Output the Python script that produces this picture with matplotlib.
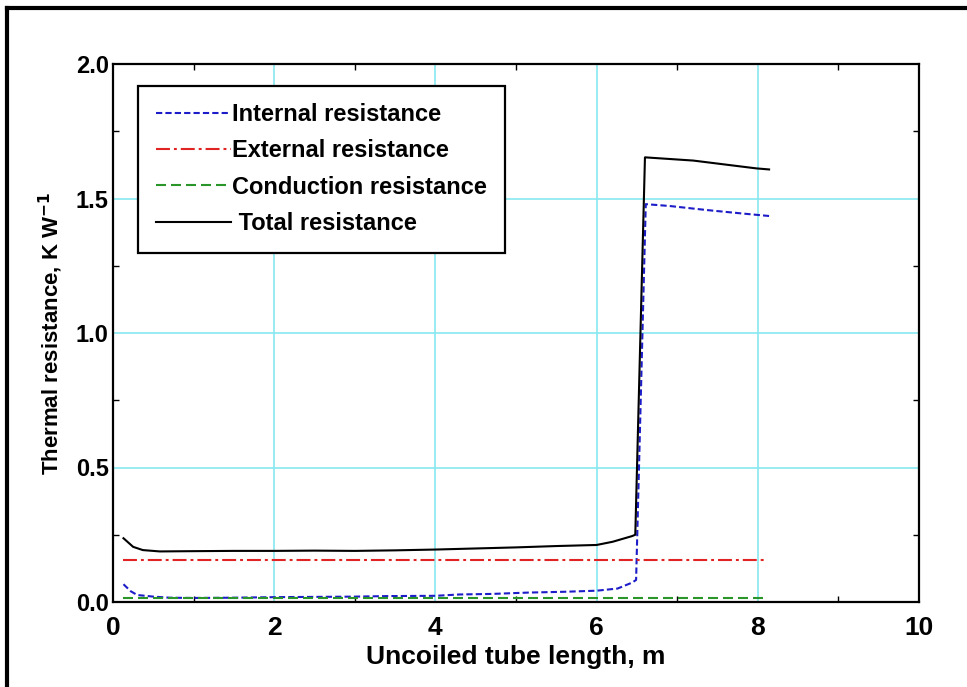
import matplotlib.pyplot as plt
from matplotlib.lines import Line2D


# tube length (m) and thermal resistance (K/W)
total_x = [0.13, 0.25, 0.37, 0.58, 1.0, 1.5, 2.0, 2.5, 3.0, 3.5, 4.0, 4.5, 5.0, 5.5,
           6.0, 6.2, 6.44, 6.48, 6.6, 7.2, 7.98, 8.14]
total_r = [0.237, 0.205, 0.193, 0.188, 0.189, 0.19, 0.19, 0.191, 0.19, 0.192, 0.195,
           0.199, 0.203, 0.208, 0.212, 0.224, 0.245, 0.25, 1.653, 1.641, 1.612, 1.608]

internal_x = [0.13, 0.22, 0.3, 0.5, 0.7, 1.0, 1.5, 2.0, 2.5, 3.0, 3.4, 4.0, 4.3, 4.7,
              5.15, 5.6, 6.0, 6.26, 6.44, 6.49, 6.61, 6.91, 7.37, 7.78, 8.14]
internal_r = [0.066, 0.04, 0.026, 0.02, 0.016, 0.015, 0.016, 0.018, 0.019, 0.02, 0.022,
              0.023, 0.028, 0.03, 0.035, 0.038, 0.042, 0.05, 0.072, 0.082, 1.479,
              1.472, 1.457, 1.445, 1.435]

external_x = [0.13, 8.12]
external_r = [0.155, 0.155]

conduction_x = [0.13, 8.1]
conduction_r = [0.014, 0.014]

labels = ['Internal resistance', 'External resistance', 'Conduction resistance',
          ' Total resistance']

bold = ['Liberation Sans', 'DejaVu Sans']

fig = plt.figure(figsize=(9.67, 6.87), dpi=100)
ax = fig.add_axes([113 / 967, 85 / 687, 806 / 967, 538 / 687])

ax.plot(internal_x, internal_r, color='#1c1cc8', lw=1.5, dashes=(3, 1.5), label=labels[0])
ax.plot(external_x, external_r, color='#e02424', lw=1.5, dashes=(6.7, 1.9, 1.4, 1.9), label=labels[1])
ax.plot(conduction_x, conduction_r, color='#2a962a', lw=1.5, dashes=(4.8, 2.4), label=labels[2])
ax.plot(total_x, total_r, color='black', lw=1.5, label=labels[3])

ax.set_xlim(0, 10)
ax.set_ylim(0, 2.0)
ax.set_xticks([0, 2, 4, 6, 8, 10])
ax.set_xticks([1, 3, 5, 7, 9], minor=True)
ax.set_yticks([0, 0.5, 1.0, 1.5, 2.0])
ax.set_yticks([0.25, 0.75, 1.25, 1.75], minor=True)
ax.set_yticklabels(['0.0', '0.5', '1.0', '1.5', '2.0'], family=bold, fontweight='bold', fontsize=17)
ax.set_xticklabels(['0', '2', '4', '6', '8', '10'], family=bold, fontweight='bold', fontsize=19)
ax.tick_params(which='both', direction='in', top=True, right=True, width=1)
ax.tick_params(which='major', length=0)
ax.tick_params(axis='y', which='major', pad=3)
ax.tick_params(axis='x', which='major', pad=10)
ax.tick_params(which='minor', length=4)
ax.grid(True, which='major', color='#86e8f0', lw=1.2)
ax.set_axisbelow(True)
for s in ax.spines.values():
    s.set_linewidth(1.6)

ax.set_xlabel('Uncoiled tube length, m', family=bold, fontweight='bold', fontsize=19, labelpad=4)
ax.set_ylabel('Thermal resistance, K W$^{\\mathbf{-1}}$', family=bold, fontweight='bold',
              fontsize=16, labelpad=8)

leg = ax.legend(loc='upper left', bbox_to_anchor=(0.031, 0.96), fancybox=False,
                edgecolor='black', framealpha=1, handlelength=3.2, handletextpad=0.05,
                labelspacing=0.56, borderpad=0.75, borderaxespad=0,
                prop={'family': bold, 'weight': 'bold', 'size': 17})
leg.get_frame().set_linewidth(1.6)

# outer frame around the whole figure
fig.add_artist(Line2D([7 / 967, 7 / 967], [0, 1 - 8 / 687], color='black', lw=3, transform=fig.transFigure))
fig.add_artist(Line2D([7 / 967, 1], [1 - 8 / 687, 1 - 8 / 687], color='black', lw=3, transform=fig.transFigure))

fig.savefig('out.png', dpi=100)
